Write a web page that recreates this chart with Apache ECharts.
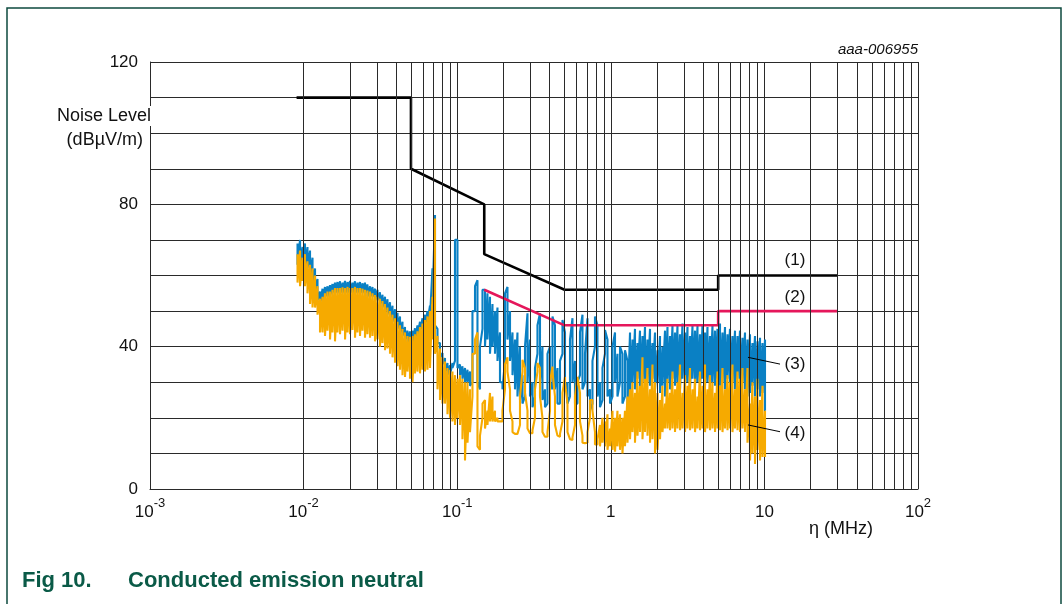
<!DOCTYPE html>
<html><head><meta charset="utf-8">
<script src="https://cdn.jsdelivr.net/npm/echarts@6/dist/echarts.min.js"></script>
<style>html,body{margin:0;padding:0;background:#fff}#c{width:1063px;height:604px}</style>
</head><body><div id="c"></div>
<script>
// ---------- data ----------
const freqMHz = [
0.00913,0.00948,0.00984,0.01021,0.01060,0.01101,0.01143,0.01187,0.01232,0.01279,
0.01328,0.01378,0.01431,0.01486,0.01542,0.01601,0.01662,0.01726,0.01792,0.01861,
0.01932,0.02005,0.02081,0.02161,0.02243,0.02329,0.02418,0.02510,0.02605,0.02706,
0.02809,0.02916,0.03027,0.03143,0.03263,0.03388,0.03517,0.03652,0.03791,0.03936,
0.04086,0.04242,0.04403,0.04572,0.04746,0.04928,0.05115,0.05311,0.05513,0.05725,
0.05943,0.06170,0.06405,0.06650,0.06903,0.07168,0.07441,0.07726,0.08020,0.08327,
0.08644,0.08975,0.09316,0.09673,0.1004,0.1043,0.1082,0.1124,0.1167,0.1211,
0.1257,0.1306,0.1355,0.1407,0.1461,0.1517,0.1574,0.1635,0.1697,0.1762,
0.1829,0.1899,0.1971,0.2047,0.2125,0.2207,0.2291,0.2378,0.2468,0.2563,
0.2660,0.2763,0.2868,0.2978,0.3091,0.3209,0.3331,0.3459,0.3590,0.3728,
0.3870,0.4019,0.4172,0.4331,0.4496,0.4669,0.4847,0.5032,0.5223,0.5424,
0.5630,0.5846,0.6068,0.6301,0.6540,0.6792,0.7050,0.7320,0.7598,0.7890,
0.8190,0.8504,0.8828,0.9166,0.9515,0.9880,1.026,1.065,1.105,1.148,
1.191,1.237,1.284,1.334,1.385,1.437,1.492,1.549,1.608,1.670,
1.733,1.800,1.868,1.940,2.014,2.091,2.170,2.254,2.339,2.429,
2.521,2.618,2.717,2.822,2.929,3.042,3.157,3.278,3.403,3.534,
3.668,3.808,3.953,4.105,4.261,4.424,4.592,4.769,4.950,5.140,
5.335,5.540,5.751,5.971,6.198,6.436,6.681,6.937,7.201,7.476,
7.760,8.058,8.365,8.685,9.015,9.362,9.718,10.09];

// trace (3): two readings per frequency bin (first, second)
const trace3First = [
69,70,68,69,68,67,65,62,59,55.5,
56.3,56.8,57,57.3,57.6,58,58.2,58.4,58,58.5,
58.2,58.5,58,58.4,58,58.2,57.8,58,57.5,57,
56.8,56.3,56,55.3,54.6,54,53.3,52.5,51.5,50.5,
49.5,48.5,47,45.5,44.5,44.3,44.5,45.2,46,47,
48,49,50,51.5,62,77,45,41,38.2,36.8,
35.4,34.8,35.4,36,70,35,34.5,34,33.5,33,
30,50,58.7,28,45,56,55,54,52,50,
51,44,30,36,56.8,50,44,42,44,40,
32,26,49.4,42,30,26,38,49.4,40,28,
24,40,28,46,34,24,38,44,30,26,
48,36,24,32,49,30,48,28,24,40,
46,30,25,38,42,28,26,44,38,30,
38,26,36,44,42,45,41,44.5,43,45.5,
42,45,41,44,39,43,40,44.5,45.5,43,
46,44,45.8,43.5,46.5,44,45.5,43,46,44.5,
45.8,43.5,46,44,45.5,43,46,44.5,45,46.5,
44,45.5,43.5,45,43,44.5,43,44.5,42.5,44,
42,43.5,41,43,41.5,42.5,41,42];
const trace3Second = [
63,64,63,63,62,60,58,56,53,52,
53,54,54,54,55,55,55,55,55,55,
55,55,55,55,55,55,55,55,54,54,
54,53,53,52,51,50,49,48,47,46,
45,44,43,42,41,41,41,42,43,44,
45,46,47,48,52,46,41,37,35,33,
32,32,34,70,34,32,31,30,30,29,
50,57,30,40,56,40,42,38,40,38,
36,30,28,55,42,36,32,28,26,25,
24,40,30,26,23,34,46,30,25,23,
38,30,48.5,28,24,36,47.5,28,24,42,
30,24,30,44,28,38,26,22,36,48.5,
26,23,34,44.7,26,24,40,30,26,40,
24,39,22,27,30,28,31,28,30,27,
30,29,31,28,30,27,29,26,30,28,
31,29,30,28,31,29,30,28,31,29,
30,28,31,29,30,28,30,29,31,29,
30,28,31,29,30,28,31,29,30,28,
26,27,29,26,28,26,27,22];

// trace (4): two readings per frequency bin (first, second)
const trace4First = [
66,67,65,66,64,63,62,60,57,53.5,
54,55,55.5,55.5,56,56.5,56.5,56.5,56.7,56.5,
56.8,56.5,56.5,56.8,56.5,56.5,56.3,56,55.8,55.5,
55,54.5,54,53.5,52.8,52,51,50,49,48,
47,46,45,44,43,42.8,43,43.5,44.3,45.5,
46.5,47.5,48.5,50,54,76,43,39.5,37,35.8,
34,33.5,33,32,31,32,31,30,30,28,
26,38,44,11,20,25,22,27,26,22,
20,19,19,28,37,28,19,15.5,15.5,18,
33,34,22,15.7,15.7,20,33,34,20,14.7,
14.7,22,34.4,26,15,14.7,19,31.5,24,14,
13.8,18,31.5,27,15,12.9,13,20,25,16,
12.5,18,20,19,21,17,22,20,22,21,
20,22,26,28,30,27,33,29,37,31,
34,28,35,30,27,25,29,24,31,27,
33,28,30,35,27,32,29,34,28,31,
26,33,29,35,28,32,30,27,33,29,
34,28,32,30,35,28,33,31,34,28,
34,24,30,26,31,25,29,22];
const trace4Second = [
58,57,58.5,57,55,52,51,51,49,44,
44,43,44.5,42,44,41.5,44,43.5,44.5,42,
44,43.5,44.7,42.5,44,43,44.5,42.5,43.5,42.5,
43,41.5,42,40,41,39,39.5,38,37,35.5,
34.5,33.5,32,31.5,33,31,30,32.5,33,32.5,
33.5,33,33.5,34,42,38,28,25,24,24,
21,20,19,18,20,18,14,8,13,16,
38,42,12,15,24,17,18,19,19,19,
19,18.5,22,35,33,22,16,15.5,16,26,
36.3,27,17,15.7,16.5,28,35.4,26,16,14.7,
16,30,33,18,14.7,15.5,27,30,16,13.8,
14.5,26,31,19,13,12.9,16,25,22,12.5,
14,12,13,12,11,12,11,10.5,12,11,
10,12,13,14,16,13,15,16,14,16,
15,13,14,10,11,14,16,17,17,16.5,
17,16,17,16.5,17,16,17,16.5,17,16,
17,16.5,17,16,17,16.5,17,16,17,16.5,
16,17,16.5,17,16,17,16.5,16,17,16,
13,8,10,7,11,8,9,9];

// limit lines
const limit1Freq = [0.009, 0.05, 0.05, 0.15, 0.15, 0.5, 5, 5, 30];
const limit1Level = [110, 110, 90, 80, 66, 56, 56, 60, 60];
const limit2Freq = [0.15, 0.5, 5, 5, 30];
const limit2Level = [56, 46, 46, 50, 50];

// axes / ticks
const xTickValues = [0.001, 0.01, 0.1, 1, 10, 100];
const xTickBase = ['10', '10', '10', '1', '10', '10'];
const xTickExp = ['-3', '-2', '-1', '', '', '2'];
const yTickLabels = [0, 40, 80, 120];
const minorGridFreqs = [
0.002,0.003,0.004,0.005,0.006,0.007,0.008,0.009,
0.02,0.03,0.04,0.05,0.06,0.07,0.08,0.09,
0.2,0.3,0.4,0.5,0.6,0.7,0.8,0.9,
2,3,4,5,6,7,8,9,
20,30,40,50,60,70,80,90];

// annotations
const curveLabels = ['(1)', '(2)', '(3)', '(4)'];
const curveLabelFreq = [15.8, 15.8, 15.8, 15.8];
const curveLabelLevel = [64.2, 54.0, 35.1, 15.7];
const leader3 = [[7.82, 37.0], [12.64, 35.1]];
const leader4 = [[7.82, 18.0], [12.64, 16.1]];

// ---------- chart ----------
const FF = '"Liberation Sans", Arial, Helvetica, sans-serif';
const GRID = '#2a2a2a';
const chart = echarts.init(document.getElementById('c'), null, {renderer: 'canvas'});

function trace(a, b) {
  const d = [];
  const n = Math.min(freqMHz.length, a.length, b.length);
  for (let i = 0; i < n; i++) { d.push([freqMHz[i], a[i]]); d.push([freqMHz[i], b[i]]); }
  return d;
}
function zip(f, v) { return f.map((x, i) => [x, v[i]]); }

chart.setOption({
  animation: false,
  backgroundColor: '#fff',
  grid: {left: 150, right: 145, top: 62, bottom: 115, containLabel: false},
  xAxis: {
    type: 'log', logBase: 10, min: 0.001, max: 100,
    axisLine: {show: true, lineStyle: {color: GRID, width: 1}},
    axisTick: {show: false},
    splitLine: {show: true, lineStyle: {color: GRID, width: 1}},
    axisLabel: {
      margin: 8, color: '#111', fontFamily: FF,
      formatter: function (v) {
        const i = xTickValues.findIndex(t => Math.abs(Math.log10(t) - Math.log10(v)) < 1e-6);
        if (i < 0) return '';
        return xTickExp[i] ? '{b|' + xTickBase[i] + '}{s|' + xTickExp[i] + '}' : '{b|' + xTickBase[i] + '}';
      },
      rich: {
        b: {fontSize: 17, fontFamily: FF, color: '#111', lineHeight: 24, verticalAlign: 'bottom'},
        s: {fontSize: 13, fontFamily: FF, color: '#111', lineHeight: 24, verticalAlign: 'top'}
      }
    }
  },
  yAxis: {
    type: 'value', min: 0, max: 120, interval: 10,
    axisLine: {show: true, lineStyle: {color: GRID, width: 1}},
    axisTick: {show: false},
    splitLine: {show: true, lineStyle: {color: GRID, width: 1}},
    axisLabel: {
      margin: 12, fontSize: 17, color: '#111', fontFamily: FF,
      formatter: v => (yTickLabels.indexOf(v) >= 0 ? String(v) : '')
    }
  },
  series: [
    {
      type: 'line', data: [], silent: true, z: 1,
      markLine: {
        silent: true, symbol: ['none', 'none'], animation: false,
        label: {show: false}, emphasis: {disabled: true},
        lineStyle: {color: GRID, width: 1, type: 'solid'},
        data: minorGridFreqs.map(f => ({xAxis: f}))
      }
    },
    {
      name: '(3)', type: 'line', data: trace(trace3First, trace3Second), z: 2,
      showSymbol: false, symbol: 'none', silent: true,
      lineStyle: {color: '#0a80c4', width: 2.1, join: 'bevel'}
    },
    {
      name: '(4)', type: 'line', data: trace(trace4First, trace4Second), z: 3,
      showSymbol: false, symbol: 'none', silent: true,
      lineStyle: {color: '#f6aa00', width: 2.1, join: 'bevel'}
    },
    {
      name: '(1)', type: 'line', data: zip(limit1Freq, limit1Level), z: 4,
      showSymbol: false, symbol: 'none', silent: true,
      lineStyle: {color: '#000', width: 2.6}
    },
    {
      name: '(2)', type: 'line', data: zip(limit2Freq, limit2Level), z: 4,
      showSymbol: false, symbol: 'none', silent: true,
      lineStyle: {color: '#e5175b', width: 2.6}
    },
    {
      type: 'line', data: leader3, z: 5, showSymbol: false, symbol: 'none', silent: true,
      lineStyle: {color: '#000', width: 1}
    },
    {
      type: 'line', data: leader4, z: 5, showSymbol: false, symbol: 'none', silent: true,
      lineStyle: {color: '#000', width: 1}
    }
  ]
});

const graphics = [
  {type: 'rect', silent: true, z: 100, shape: {x: 7, y: 8, width: 1054, height: 700},
   style: {fill: 'none', stroke: '#0c4a3e', lineWidth: 1.5}},
  {type: 'text', silent: true, z: 100, x: 152, y: 116,
   style: {text: 'Noise Level', font: '18px ' + FF, fill: '#111', align: 'right', verticalAlign: 'middle',
           backgroundColor: '#fff', padding: [1, 1, 1, 1]}},
  {type: 'text', silent: true, z: 100, x: 143, y: 140,
   style: {text: '(dBµV/m)', font: '18px ' + FF, fill: '#111', align: 'right', verticalAlign: 'middle'}},
  {type: 'text', silent: true, z: 100, x: 918, y: 50,
   style: {text: 'aaa-006955', font: 'italic 15px ' + FF, fill: '#111', align: 'right', verticalAlign: 'middle'}},
  {type: 'text', silent: true, z: 100, x: 809, y: 529,
   style: {text: 'η (MHz)', font: '18px ' + FF, fill: '#111', align: 'left', verticalAlign: 'middle'}},
  {type: 'text', silent: true, z: 100, x: 22, y: 581,
   style: {text: 'Fig 10.', font: 'bold 22px ' + FF, fill: '#0a5a47', align: 'left', verticalAlign: 'middle'}},
  {type: 'text', silent: true, z: 100, x: 128, y: 581,
   style: {text: 'Conducted emission neutral', font: 'bold 22px ' + FF, fill: '#0a5a47', align: 'left', verticalAlign: 'middle'}}
];
curveLabels.forEach((t, i) => {
  const p = chart.convertToPixel({gridIndex: 0}, [curveLabelFreq[i], curveLabelLevel[i]]);
  graphics.push({type: 'text', silent: true, z: 100, x: p[0], y: p[1],
    style: {text: t, font: '17px ' + FF, fill: '#111', align: 'center', verticalAlign: 'middle'}});
});
chart.setOption({graphic: graphics});
</script>
</body></html>
